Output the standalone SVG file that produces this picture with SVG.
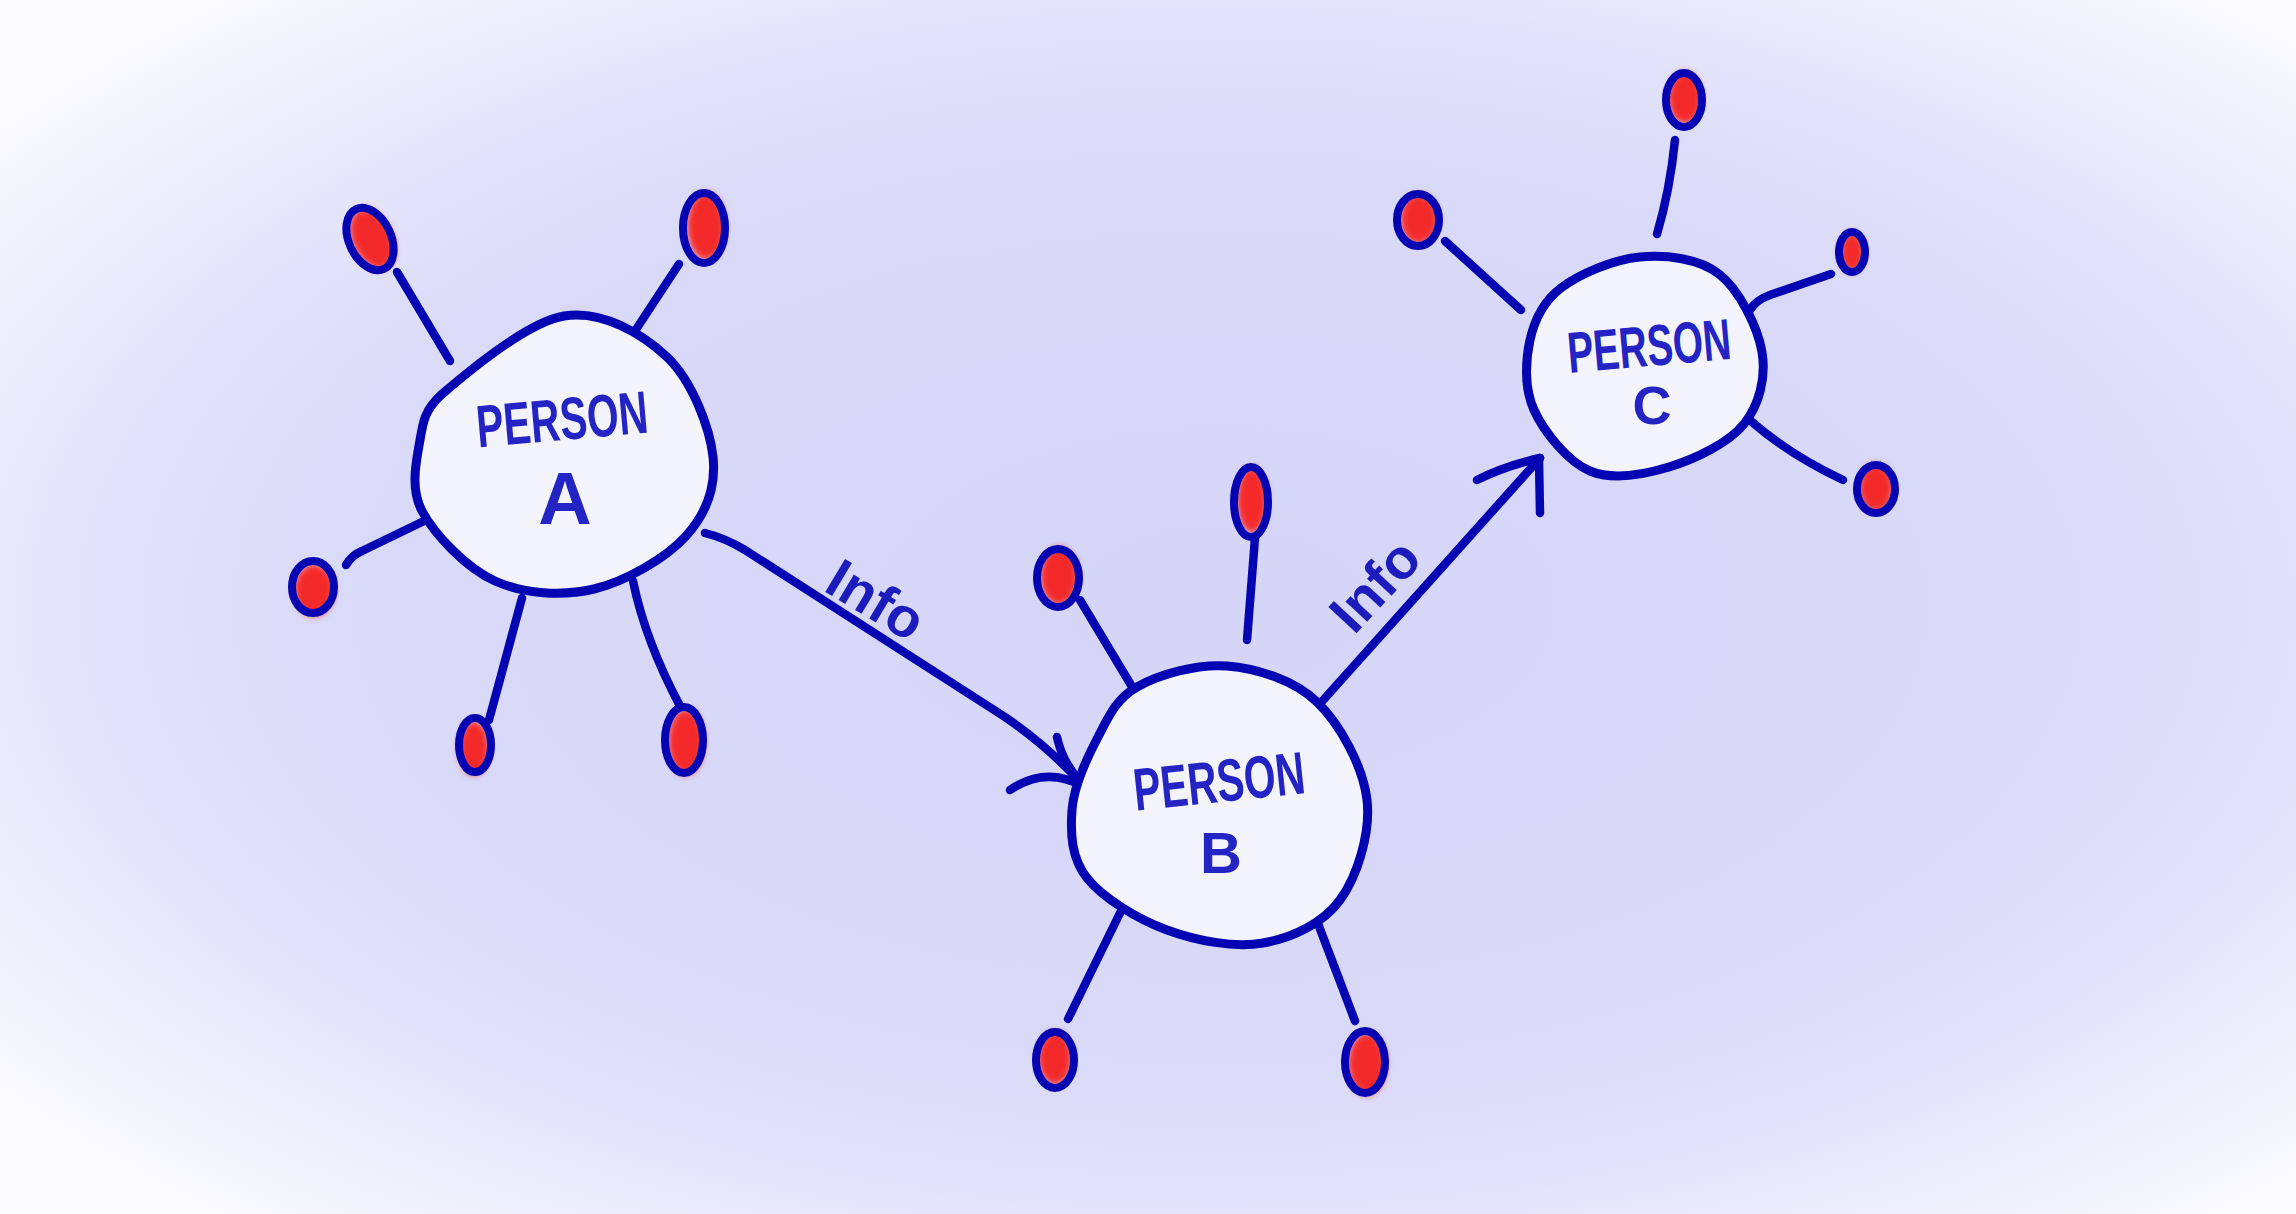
<svg xmlns="http://www.w3.org/2000/svg" width="2296" height="1214" viewBox="0 0 2296 1214">
<defs>
  <radialGradient id="bg" cx="0.53" cy="0.5" r="0.68">
    <stop offset="0" stop-color="#d5d5f8"/>
    <stop offset="0.55" stop-color="#d9d9f9"/>
    <stop offset="0.72" stop-color="#e3e3fb"/>
    <stop offset="0.88" stop-color="#f1f1fd"/>
    <stop offset="1" stop-color="#fcfcff"/>
  </radialGradient>
  <filter id="soft" x="-50%" y="-50%" width="200%" height="200%">
    <feGaussianBlur stdDeviation="3"/>
  </filter>
  <style>
    .ink{fill:none;stroke:#0404b2;stroke-width:8.5;stroke-linecap:round;stroke-linejoin:round}
    .node{fill:#f4f4fe;stroke:#0404b2;stroke-width:9;stroke-linejoin:round}
    .red{fill:#f42a2a;filter:url(#soft)}
    .ring{fill:none;stroke:#0404b2;stroke-width:8}
    .lbl{font-family:"Liberation Sans",Arial,sans-serif;font-weight:bold;fill:#2424c4;text-anchor:middle}
    .info{font-family:"Liberation Sans",Arial,sans-serif;font-weight:bold;fill:#1c1cbc;font-size:56px}
  </style>
</defs>
<rect width="2296" height="1214" fill="url(#bg)"/>

<g id="connectors">
  <!-- spokes A -->
  <path class="ink" d="M397,272 L450,361"/>
  <path class="ink" d="M679,264 L633,334"/>
  <path class="ink" d="M346,565 Q352,555 362,551 L424,521"/>
  <path class="ink" d="M522,598 L489,720"/>
  <path class="ink" d="M633,581 Q645,640 680,706"/>
  <!-- spokes B -->
  <path class="ink" d="M1080,600 L1140,700"/>
  <path class="ink" d="M1255,538 L1247,640"/>
  <path class="ink" d="M1068,1019 L1120,913"/>
  <path class="ink" d="M1355,1021 L1317,921"/>
  <!-- spokes C -->
  <path class="ink" d="M1675,140 Q1670,190 1657,234"/>
  <path class="ink" d="M1445,241 L1521,310"/>
  <path class="ink" d="M1831,274 L1770,295 Q1756,300 1750,310"/>
  <path class="ink" d="M1843,480 Q1790,455 1752,422"/>
  <!-- A -> B -->
  <path class="ink" d="M705,533 Q725,538 745,550 L1005,717 Q1050,748 1083,785"/>
  <path class="ink" d="M1057,737 Q1062,762 1083,785"/>
  <path class="ink" d="M1010,790 Q1045,766 1083,786"/>
  <text class="info" transform="translate(822,590) rotate(31)">Info</text>
  <!-- B -> C -->
  <path class="ink" d="M1317,707 L1540,458"/>
  <path class="ink" d="M1477,480 Q1505,466 1540,458"/>
  <path class="ink" d="M1540,513 L1539,460"/>
  <text class="info" transform="translate(1354,636) rotate(-47)">Info</text>
</g>

<g id="person-a">
  <path class="node" d="M441,395 C465,374.3 526.3,322.3 564,316 C601.7,309.7 642.2,333.5 667,357 C691.8,380.5 709.8,427.2 713,457 C716.2,486.8 705.8,514 686,536 C666.2,558 625.8,581.5 594,589 C562.2,596.5 523.7,594 495,581 C466.3,568 434.5,534.5 422,511 C409.5,487.5 416.8,459.3 420,440 C423.2,420.7 425,410 441,395 Z"/>
  <text class="lbl" font-size="60" x="562" y="440" textLength="172" lengthAdjust="spacingAndGlyphs" transform="rotate(-5 562 418)">PERSON</text>
  <text class="lbl" font-size="74" x="565" y="524">A</text>
</g>
<g id="person-b">
  <path class="node" d="M1137,687 C1158.7,674.8 1197,663.5 1227,666 C1257,668.5 1293.7,679.7 1317,702 C1340.3,724.3 1363.2,767 1367,800 C1370.8,833 1357.3,876.2 1340,900 C1322.7,923.8 1291.8,938 1263,943 C1234.2,948 1196.3,940.8 1167,930 C1137.7,919.2 1102.8,898 1087,878 C1071.2,858 1070.3,833.2 1072,810 C1073.7,786.8 1086.2,759.5 1097,739 C1107.8,718.5 1115.3,699.2 1137,687 Z"/>
  <text class="lbl" font-size="60" x="1219" y="802" textLength="172" lengthAdjust="spacingAndGlyphs" transform="rotate(-6 1219 780)">PERSON</text>
  <text class="lbl" font-size="58" x="1221" y="873">B</text>
</g>
<g id="person-c">
  <path class="node" d="M1561,288 C1579.3,274.2 1613.7,259.3 1640,257 C1666.3,254.7 1698.7,258.2 1719,274 C1739.3,289.8 1757.8,327 1762,352 C1766.2,377 1759.5,404.8 1744,424 C1728.5,443.2 1694.7,459.2 1669,467 C1643.3,474.8 1612.5,480.5 1590,471 C1567.5,461.5 1544,431.8 1534,410 C1524,388.2 1525.5,360.3 1530,340 C1534.5,319.7 1542.7,301.8 1561,288 Z"/>
  <text class="lbl" font-size="58" x="1649" y="366" textLength="164" lengthAdjust="spacingAndGlyphs" transform="rotate(-5 1649 345)">PERSON</text>
  <text class="lbl" font-size="54" x="1652" y="424">C</text>
</g>

<g id="a-contact-1"><ellipse class="red" cx="372" cy="239" rx="20" ry="32" transform="rotate(-25 372 239)"/><ellipse class="ring" cx="370" cy="239" rx="21" ry="33" transform="rotate(-25 370 239)"/></g>
<g id="a-contact-2"><ellipse class="red" cx="706" cy="226" rx="19" ry="34"/><ellipse class="ring" cx="704" cy="228" rx="21" ry="35"/></g>
<g id="a-contact-3"><ellipse class="red" cx="314" cy="590" rx="20" ry="26"/><ellipse class="ring" cx="313" cy="587" rx="21" ry="26"/></g>
<g id="a-contact-4"><ellipse class="red" cx="474" cy="748" rx="15" ry="27"/><ellipse class="ring" cx="475" cy="745" rx="16" ry="27"/></g>
<g id="a-contact-5"><ellipse class="red" cx="686" cy="742" rx="18" ry="33"/><ellipse class="ring" cx="684" cy="740" rx="19" ry="33"/></g>

<g id="b-contact-1"><ellipse class="red" cx="1059" cy="576" rx="19" ry="29"/><ellipse class="ring" cx="1058" cy="578" rx="21" ry="29"/></g>
<g id="b-contact-2"><ellipse class="red" cx="1252" cy="500" rx="15" ry="33"/><ellipse class="ring" cx="1251" cy="502" rx="17" ry="35"/></g>
<g id="b-contact-3"><ellipse class="red" cx="1055" cy="1058" rx="17" ry="27"/><ellipse class="ring" cx="1055" cy="1060" rx="19" ry="28"/></g>
<g id="b-contact-4"><ellipse class="red" cx="1367" cy="1064" rx="19" ry="31"/><ellipse class="ring" cx="1365" cy="1062" rx="20" ry="31"/></g>

<g id="c-contact-1"><ellipse class="red" cx="1685" cy="98" rx="17" ry="26"/><ellipse class="ring" cx="1684" cy="100" rx="18" ry="27"/></g>
<g id="c-contact-2"><ellipse class="red" cx="1419" cy="219" rx="19" ry="25"/><ellipse class="ring" cx="1418" cy="220" rx="21" ry="26"/></g>
<g id="c-contact-3"><ellipse class="red" cx="1852" cy="252" rx="12" ry="20"/><ellipse class="ring" cx="1852" cy="252" rx="13" ry="20"/></g>
<g id="c-contact-4"><ellipse class="red" cx="1876" cy="488" rx="17" ry="24"/><ellipse class="ring" cx="1876" cy="489" rx="19" ry="24"/></g>
</svg>
